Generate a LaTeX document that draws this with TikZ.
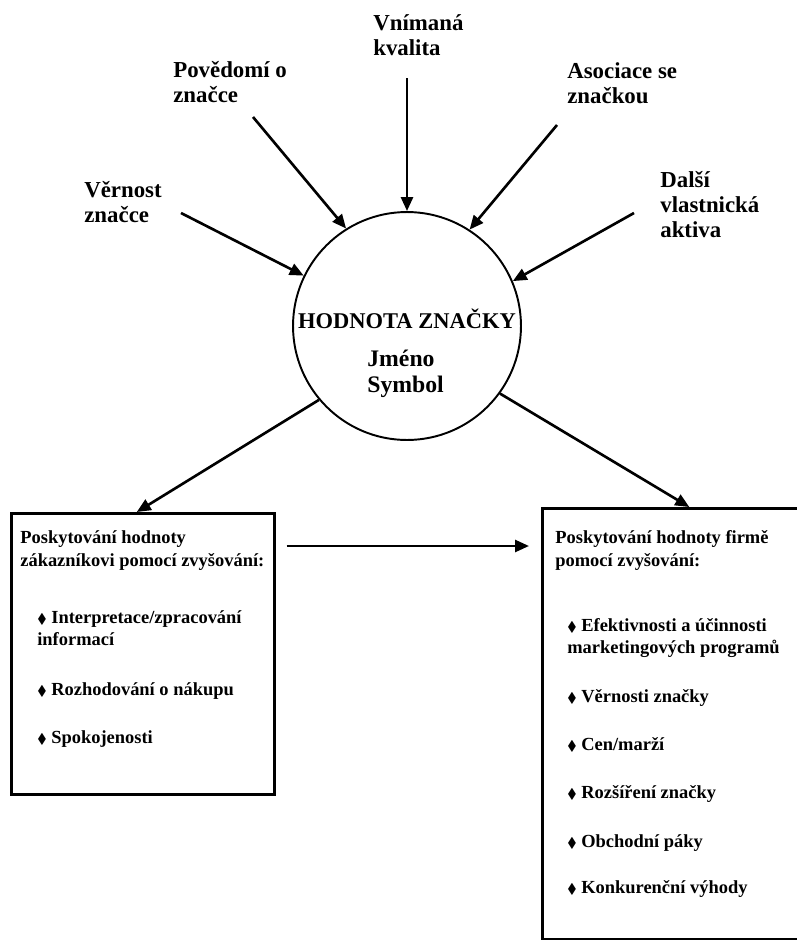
\documentclass[tikz,border=0pt]{standalone}
\usepackage{fontspec}
\setmainfont{Liberation Serif}
\usepackage{amssymb}
\usepackage{tikz}
\usetikzlibrary{shapes, arrows.meta, positioning, calc}
\newcommand{\dia}{{\footnotesize$\blacklozenge$}}

\begin{document}
\begin{tikzpicture}
  [
    x=0.02cm, y=-0.02cm,
    Label/.style={anchor=base west, align=left, inner sep=0pt, font=\fontsize{13}{14.2}\selectfont\bfseries},
    Brand/.style={circle, draw=black, line width=1.1pt, minimum size=4.56cm, inner sep=0pt},
    Panel/.style={rectangle, draw=black, line width=1.5pt, anchor=north west, inner sep=0pt},
    Head/.style={anchor=base west, align=left, inner sep=0pt, font=\fontsize{10.5}{13}\selectfont\bfseries},
    Item/.style={anchor=base west, align=left, inner sep=0pt, font=\fontsize{10.5}{12}\selectfont\bfseries},
    Arrow/.style={-{Triangle[length=0.28cm, width=0.24cm]}, draw, line width=1.5pt}
  ]
  \useasboundingbox (0,0) rectangle (797,940);

  % Nodes (base = last line)
  \node[Brand] (brand) at (407, 326) {};
  \node[anchor=base, inner sep=0pt, font=\fontsize{12.8}{14}\selectfont\bfseries] (brandname) at (407, 328) {HODNOTA ZNAČKY};
  \node[Label, font=\fontsize{13.5}{14.8}\selectfont\bfseries] (brandsub) at (367, 392) {Jméno\\Symbol};

  \node[Label] (kval) at (373, 55) {Vnímaná\\kvalita};
  \node[Label] (pov) at (173, 102) {Povědomí o\\značce};
  \node[Label] (asoc) at (567, 103) {Asociace se\\značkou};
  \node[Label] (vern) at (84, 222) {Věrnost\\značce};
  \node[Label] (dalsi) at (660, 237) {Další\\vlastnická\\aktiva};

  \coordinate (kvalend) at (407, 78);
  \coordinate (povend) at (253, 117);
  \coordinate (asocend) at (557, 125);
  \coordinate (vernend) at (181, 213);
  \coordinate (dalsiend) at (634, 213);

  \node[Panel, minimum width=5.26cm, minimum height=5.62cm] (custbox) at (10, 512) {};
  \node[Panel, minimum width=5.16cm, minimum height=8.62cm] (firmbox) at (541, 507) {};

  \node[Head] (custhead) at (20, 566) {Poskytování hodnoty\\zákazníkovi pomocí zvyšování:};
  \node[Item] (cust1) at (37, 645) {\dia{} Interpretace/zpracování\\informací};
  \node[Item] (cust2) at (37, 695) {\dia{} Rozhodování o nákupu};
  \node[Item] (cust3) at (37, 743) {\dia{} Spokojenosti};

  \node[Head] (firmhead) at (555, 566) {Poskytování hodnoty firmě\\pomocí zvyšování:};
  \node[Item] (firm1) at (567, 653) {\dia{} Efektivnosti a účinnosti\\marketingových programů};
  \node[Item] (firm2) at (567, 702) {\dia{} Věrnosti značky};
  \node[Item] (firm3) at (567, 750) {\dia{} Cen/marží};
  \node[Item] (firm4) at (567, 798) {\dia{} Rozšíření značky};
  \node[Item] (firm5) at (567, 847) {\dia{} Obchodní páky};
  \node[Item] (firm6) at (567, 893) {\dia{} Konkurenční výhody};

  % Lines
  \path [Arrow] (kvalend) -- (brand.90);
  \path [Arrow] (povend) -- (brand.122);
  \path [Arrow] (asocend) -- (brand.57);
  \path [Arrow] (vernend) -- (brand.154);
  \path [Arrow] (dalsiend) -- (brand.23);
  \path [Arrow] (brand.220) -- ($(custbox.north)+(-6,0)$);
  \path [Arrow] (brand.-36) -- ($(firmbox.north)+(18,0)$);
  \path [Arrow] ($(custbox.north east)+(11,34)$) -- ($(firmbox.north west)+(-12,39)$);

\end{tikzpicture}
\end{document}
